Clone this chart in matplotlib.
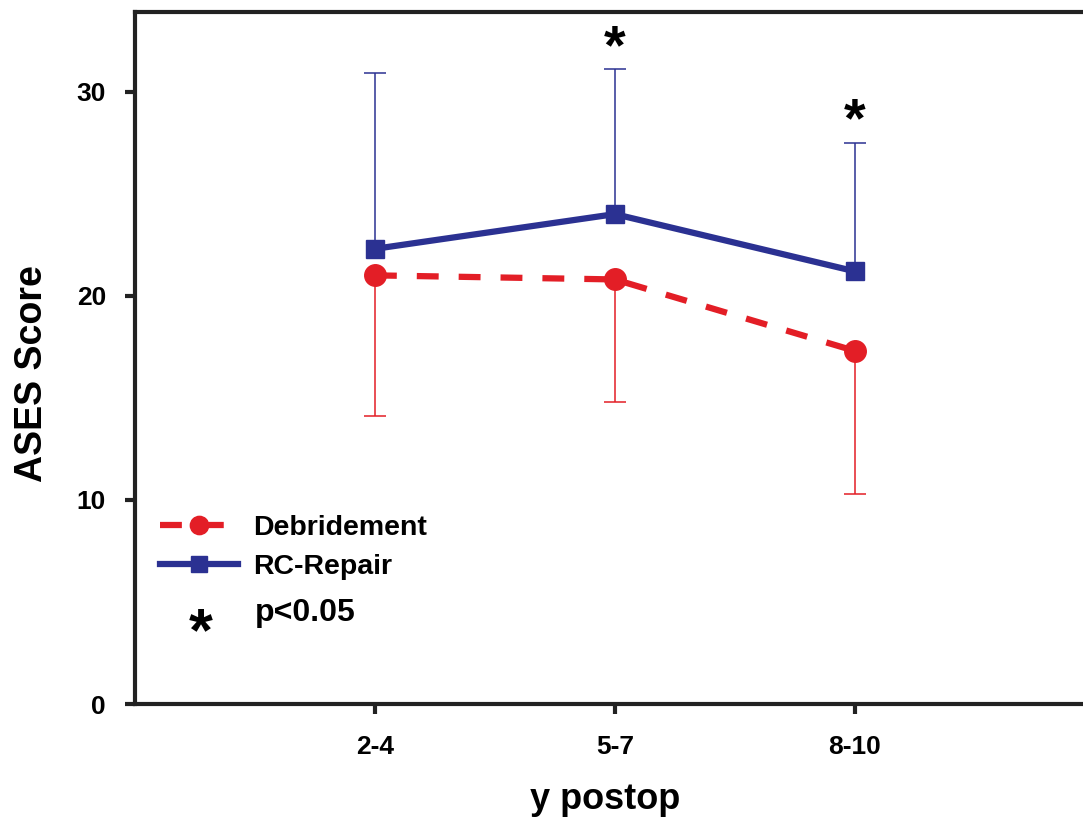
import numpy as np
import matplotlib
matplotlib.use('Agg')
import matplotlib.pyplot as plt

# data
groups = ['2-4', '5-7', '8-10']
debridement = [21.0, 20.8, 17.3]
debridement_sd = [6.9, 6.0, 7.0]   # only the lower bar is drawn
rc_repair = [22.3, 24.0, 21.2]
rc_repair_sd = [8.6, 7.1, 6.3]     # only the upper bar is drawn
signif = [False, True, True]

red = '#e31e26'
blue = '#2b3192'
dark = '#222222'
plt.rcParams['font.family'] = ['Liberation Sans', 'DejaVu Sans']
plt.rcParams['font.weight'] = 'bold'

fig = plt.figure(figsize=(10.83, 8.19), dpi=100)
ax = fig.add_axes([0.1247, 0.1404, 0.886, 0.8449])

x = np.arange(1, len(groups) + 1)
deb_low = np.array(debridement) - np.array(debridement_sd)
rc_high = np.array(rc_repair) + np.array(rc_repair_sd)

# one-sided error bars, with caps only at the far end
ax.vlines(x, deb_low, debridement, color=red, lw=1.1, zorder=2)
ax.plot(x, deb_low, ls='none', marker='_', ms=16, mew=1.1, color=red, zorder=2)
ax.vlines(x, rc_repair, rc_high, color=blue, lw=1.1, zorder=2)
ax.plot(x, rc_high, ls='none', marker='_', ms=16, mew=1.1, color=blue, zorder=2)

ax.plot(x, debridement, color=red, lw=4.5, ls=(0, (3.5, 3.2)), marker='o', ms=15.5,
        label='Debridement', zorder=3)
ax.plot(x, rc_repair, color=blue, lw=4.5, marker='s', ms=13.5,
        label='RC-Repair', zorder=4)

# significance stars
for xi, top, s in zip(x, rc_high, signif):
    if s:
        ax.text(xi, top + 1.0, '*', ha='center', va='center',
                fontsize=40, fontweight='bold')

ax.set_xlim(0, 4)
ax.set_ylim(0, 33.9)
ax.set_xticks(x)
ax.set_xticklabels(groups)
ax.set_yticks([0, 10, 20, 30])

for lab in ax.get_xticklabels() + ax.get_yticklabels():
    lab.set_fontsize(19)
    lab.set_fontweight('bold')

ax.tick_params(axis='both', direction='out', length=7, width=3, color=dark)
ax.tick_params(axis='x', pad=15)
ax.tick_params(axis='y', pad=14)

for side in ['left', 'bottom', 'top']:
    ax.spines[side].set_linewidth(3)
    ax.spines[side].set_color(dark)
ax.spines['right'].set_visible(False)

ax.set_ylabel('ASES Score', fontsize=27, fontweight='bold')
ax.yaxis.set_label_coords(-0.107, 0.478)
ax.yaxis.label.set_va('center')
ax.set_xlabel('y postop', fontsize=26, fontweight='bold')
ax.xaxis.set_label_coords(0.49, -0.1515)
ax.xaxis.label.set_va('baseline')

leg = ax.legend(loc='center left', bbox_to_anchor=(0.026, 0.2265), frameon=False,
                handlelength=2.75, handletextpad=0.53, borderpad=0,
                borderaxespad=0, labelspacing=0.45, markerscale=0.85,
                prop={'weight': 'bold', 'size': 20.5})
ax.text(0.0686, 0.1, '*', transform=ax.transAxes, fontsize=44,
        fontweight='bold', ha='center', va='center')
ax.text(0.1245, 0.131, 'p<0.05', transform=ax.transAxes, fontsize=23,
        fontweight='bold', ha='left', va='center')

fig.savefig('out.png', dpi=100)
